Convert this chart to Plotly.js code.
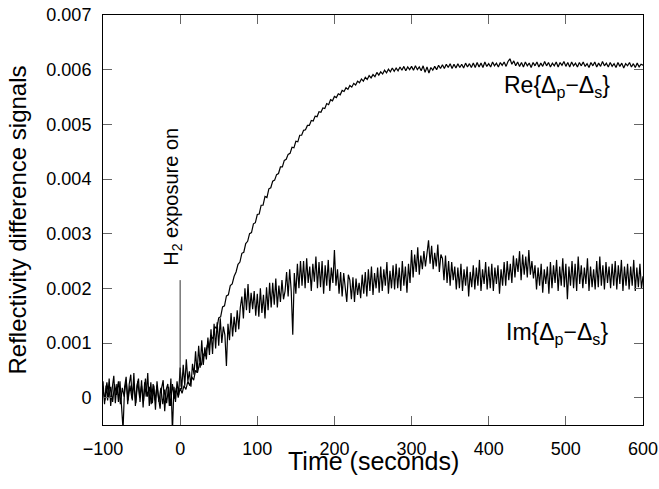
<!DOCTYPE html>
<html>
<head>
<meta charset="utf-8">
<script src="https://cdn.plot.ly/plotly-3.0.1.min.js"></script>
<style>html,body{margin:0;padding:0;background:#fff;}#chart{width:659px;height:489px;}</style>
</head>
<body>
<div id="chart"></div>
<script>
// Time axis: samples start at -100 s
const timeStart = -100;
const imStep = 2;     // seconds between Im samples
const reStep = 2.5;   // seconds between Re samples

// Im{Δp−Δs}, units of 1e-3, one value every 2 s from -100 s to 600 s
const imSignalMilli = [
  0.30,-0.12,0.22,-0.05,0.35,-0.15,0.18,0.40,-0.10,0.25,
  -0.08,0.30,-0.15,-0.58,0.20,0.38,-0.12,0.25,0.42,-0.05,
  0.45,-0.15,0.22,0.35,-0.08,0.32,-0.18,0.28,0.02,0.45,
  -0.15,0.28,-0.10,0.22,-0.22,0.30,0.00,-0.20,0.18,0.32,
  -0.25,0.15,0.25,-0.15,0.35,-0.62,0.20,-0.08,0.30,0.05,
  0.55,0.15,0.60,0.22,0.70,0.30,0.48,0.20,0.62,0.42,
  0.85,0.45,0.95,0.55,1.05,0.60,0.92,0.70,1.10,0.78,
  1.25,0.80,1.35,0.90,1.38,0.95,1.45,1.00,1.30,1.15,
  0.58,1.35,1.05,1.55,1.12,1.48,1.20,1.60,1.25,1.65,
  1.85,1.45,2.00,1.60,2.08,1.55,1.92,1.62,1.95,1.50,
  1.90,1.48,2.00,1.55,1.88,1.45,2.02,1.60,2.10,1.65,
  2.10,1.70,2.18,1.65,2.05,1.75,2.15,1.80,1.95,2.30,
  1.85,2.35,1.95,1.15,2.28,1.90,2.45,2.00,2.50,2.05,
  2.50,2.00,2.55,2.10,2.40,1.95,2.45,2.12,2.58,2.00,
  2.48,2.02,2.50,1.90,2.42,2.05,2.52,1.95,2.38,2.10,
  2.70,2.05,2.35,1.90,2.30,1.85,2.28,2.00,1.75,2.25,
  2.15,1.80,2.20,1.75,2.18,1.88,2.10,1.82,2.25,1.90,
  2.30,1.85,2.35,1.95,2.40,1.88,2.28,2.00,2.38,1.92,
  2.40,1.95,2.35,2.05,2.48,1.90,2.32,2.00,2.42,1.98,
  2.45,2.00,2.38,1.95,2.50,2.05,2.40,1.92,2.45,2.10,
  2.70,2.20,2.62,2.30,2.75,2.25,2.60,2.35,2.68,2.40,
  2.70,2.88,2.45,2.78,2.35,2.65,2.40,2.80,2.30,2.62,
  2.55,2.15,2.60,2.10,2.50,2.05,2.48,2.15,2.40,1.98,
  2.38,2.00,2.45,1.95,2.35,2.05,2.40,1.85,2.30,2.02,
  2.42,1.98,2.38,2.05,2.52,1.95,2.35,2.08,2.48,1.98,
  2.40,2.00,2.45,1.95,2.38,2.08,2.42,1.90,2.35,2.05,
  2.48,2.05,2.50,2.15,2.45,2.10,2.60,2.20,2.55,2.30,
  2.68,2.15,2.62,2.25,2.58,2.20,2.70,2.25,2.50,2.18,
  2.42,1.98,2.38,2.05,2.45,1.92,2.35,2.08,2.40,1.90,
  2.48,2.00,2.42,2.10,2.52,1.95,2.40,2.05,2.55,2.02,
  2.45,1.80,2.40,2.05,2.50,2.00,2.45,1.95,2.58,2.08,
  2.42,2.00,2.38,2.08,2.55,1.95,2.40,2.02,2.35,1.98,
  2.50,2.02,2.58,2.05,2.42,1.98,2.48,2.10,2.40,2.00,
  2.45,2.05,2.50,1.98,2.42,2.08,2.52,1.95,2.40,2.05,
  2.45,1.98,2.40,2.05,2.52,1.95,2.38,2.02,2.45,2.00,
  2.22
];

// Re{Δp−Δs}, units of 1e-3, one value every 2.5 s from -100 s to 600 s
const reSignalMilli = [
  0.15,-0.05,0.28,0.00,0.20,-0.08,0.25,0.05,
  0.30,-0.12,0.18,0.02,0.32,-0.05,0.22,-0.02,
  0.25,-0.10,0.30,0.00,0.22,-0.06,0.35,0.02,
  0.20,-0.12,0.25,-0.05,0.22,-0.08,0.18,-0.12,
  0.15,-0.10,0.20,-0.15,0.25,-0.02,0.18,0.00,
  0.18,0.08,0.22,0.15,0.30,0.22,0.38,0.32,
  0.50,0.46,0.62,0.60,0.80,0.76,0.95,0.92,
  1.12,1.08,1.30,1.26,1.46,1.48,1.66,1.68,
  1.86,1.88,2.05,2.08,2.22,2.30,2.44,2.48,
  2.64,2.66,2.82,2.86,3.00,3.02,3.18,3.20,
  3.35,3.36,3.52,3.52,3.68,3.66,3.82,3.84,
  3.96,3.98,4.08,4.10,4.22,4.22,4.34,4.36,
  4.45,4.47,4.58,4.57,4.69,4.68,4.80,4.80,
  4.89,4.90,4.98,4.98,5.07,5.06,5.15,5.14,
  5.23,5.22,5.30,5.29,5.38,5.36,5.45,5.43,
  5.51,5.49,5.56,5.54,5.62,5.60,5.67,5.64,
  5.71,5.68,5.75,5.72,5.79,5.76,5.83,5.79,
  5.86,5.82,5.89,5.85,5.91,5.87,5.95,5.90,
  5.96,5.92,5.99,5.94,6.01,5.96,6.03,5.97,
  6.03,5.98,6.05,5.99,6.06,5.98,6.05,6.00,
  6.06,5.99,6.07,6.00,6.05,5.98,6.07,5.95,
  6.05,5.94,6.04,5.99,6.06,6.00,6.08,6.02,
  6.09,6.02,6.10,6.04,6.11,6.02,6.10,6.03,
  6.11,6.04,6.10,6.03,6.12,6.05,6.11,6.04,
  6.12,6.04,6.13,6.05,6.12,6.04,6.14,6.06,
  6.11,6.05,6.14,6.07,6.12,6.05,6.13,6.08,
  6.14,6.06,6.15,6.20,6.10,6.16,6.07,6.14,
  6.06,6.13,6.05,6.14,6.07,6.12,6.04,6.13,
  6.07,6.14,6.05,6.12,6.06,6.15,6.07,6.13,
  6.05,6.12,6.07,6.14,6.05,6.13,6.08,6.15,
  6.06,6.13,6.05,6.14,6.07,6.12,6.05,6.13,
  6.07,6.14,6.06,6.11,6.04,6.13,6.07,6.14,
  6.05,6.12,6.06,6.15,6.07,6.12,6.05,6.13,
  6.06,6.11,6.04,6.13,6.06,6.12,6.03,6.11,
  6.07,6.13,6.05,6.11,6.04,6.12,6.05,6.10,
  6.08
];

// Marker of H2 exposure start
const exposureTime = [0, 0];
const exposureMarkY = [0.0002, 0.00215];

// Axis ticks
const xTickVals = [-100, 0, 100, 200, 300, 400, 500, 600];
const yTickVals = [0, 0.001, 0.002, 0.003, 0.004, 0.005, 0.006, 0.007];
const yTickText = ['0', '0.001', '0.002', '0.003', '0.004', '0.005', '0.006', '0.007'];

const FONT = '"Liberation Sans", Arial, Helvetica, sans-serif';

const traces = [
  {
    type: 'scatter', mode: 'lines', name: 'Im',
    x0: timeStart, dx: imStep,
    y: imSignalMilli.map(v => v / 1000),
    line: {color: '#000', width: 1.2},
    hoverinfo: 'skip'
  },
  {
    type: 'scatter', mode: 'lines', name: 'Re',
    x0: timeStart, dx: reStep,
    y: reSignalMilli.map(v => v / 1000),
    line: {color: '#000', width: 1.2},
    hoverinfo: 'skip'
  },
  {
    type: 'scatter', mode: 'lines', name: 'exposure',
    x: exposureTime, y: exposureMarkY,
    line: {color: '#333', width: 1},
    hoverinfo: 'skip'
  }
];

const layout = {
  width: 659, height: 489,
  margin: {l: 103, r: 16, t: 15, b: 64, pad: 0},
  paper_bgcolor: '#fff', plot_bgcolor: '#fff',
  showlegend: false,
  font: {family: FONT, color: '#000', size: 18},
  xaxis: {
    range: [-100, 600],
    tickmode: 'array', tickvals: xTickVals,
    ticks: 'inside', ticklen: 9, tickwidth: 1, tickcolor: '#666',
    ticklabelstandoff: 7,
    showline: true, linecolor: '#000', linewidth: 1, mirror: 'ticks',
    showgrid: false, zeroline: false,
    tickfont: {family: FONT, size: 18, color: '#000'}
  },
  yaxis: {
    range: [-0.0005, 0.007],
    tickmode: 'array', tickvals: yTickVals, ticktext: yTickText,
    ticks: 'inside', ticklen: 9, tickwidth: 1, tickcolor: '#666',
    ticklabelstandoff: 7,
    showline: true, linecolor: '#000', linewidth: 1, mirror: 'ticks',
    showgrid: false, zeroline: false,
    tickfont: {family: FONT, size: 18, color: '#000'},
    title: {text: 'Reflectivity difference signals', font: {family: FONT, size: 24, color: '#000'}, standoff: 12}
  },
  annotations: [
    {
      x: 0.5, y: -0.088, xref: 'paper', yref: 'paper',
      text: 'Time (seconds)',
      showarrow: false, xanchor: 'center', yanchor: 'middle',
      font: {family: FONT, size: 25, color: '#000'}
    },
    {
      x: -11, y: 0.00367, xref: 'x', yref: 'y',
      text: 'H<sub>2</sub> exposure on', textangle: -90,
      showarrow: false, xanchor: 'center', yanchor: 'middle',
      font: {family: FONT, size: 20, color: '#000'}
    },
    {
      x: 488, y: 0.0057, xref: 'x', yref: 'y',
      text: 'Re{Δ<sub>p</sub>−Δ<sub>s</sub>}',
      showarrow: false, xanchor: 'center', yanchor: 'middle',
      font: {family: FONT, size: 23, color: '#000'}
    },
    {
      x: 488, y: 0.00118, xref: 'x', yref: 'y',
      text: 'Im{Δ<sub>p</sub>−Δ<sub>s</sub>}',
      showarrow: false, xanchor: 'center', yanchor: 'middle',
      font: {family: FONT, size: 23, color: '#000'}
    }
  ]
};

Plotly.newPlot('chart', traces, layout, {staticPlot: true, displayModeBar: false});
</script>
</body>
</html>
